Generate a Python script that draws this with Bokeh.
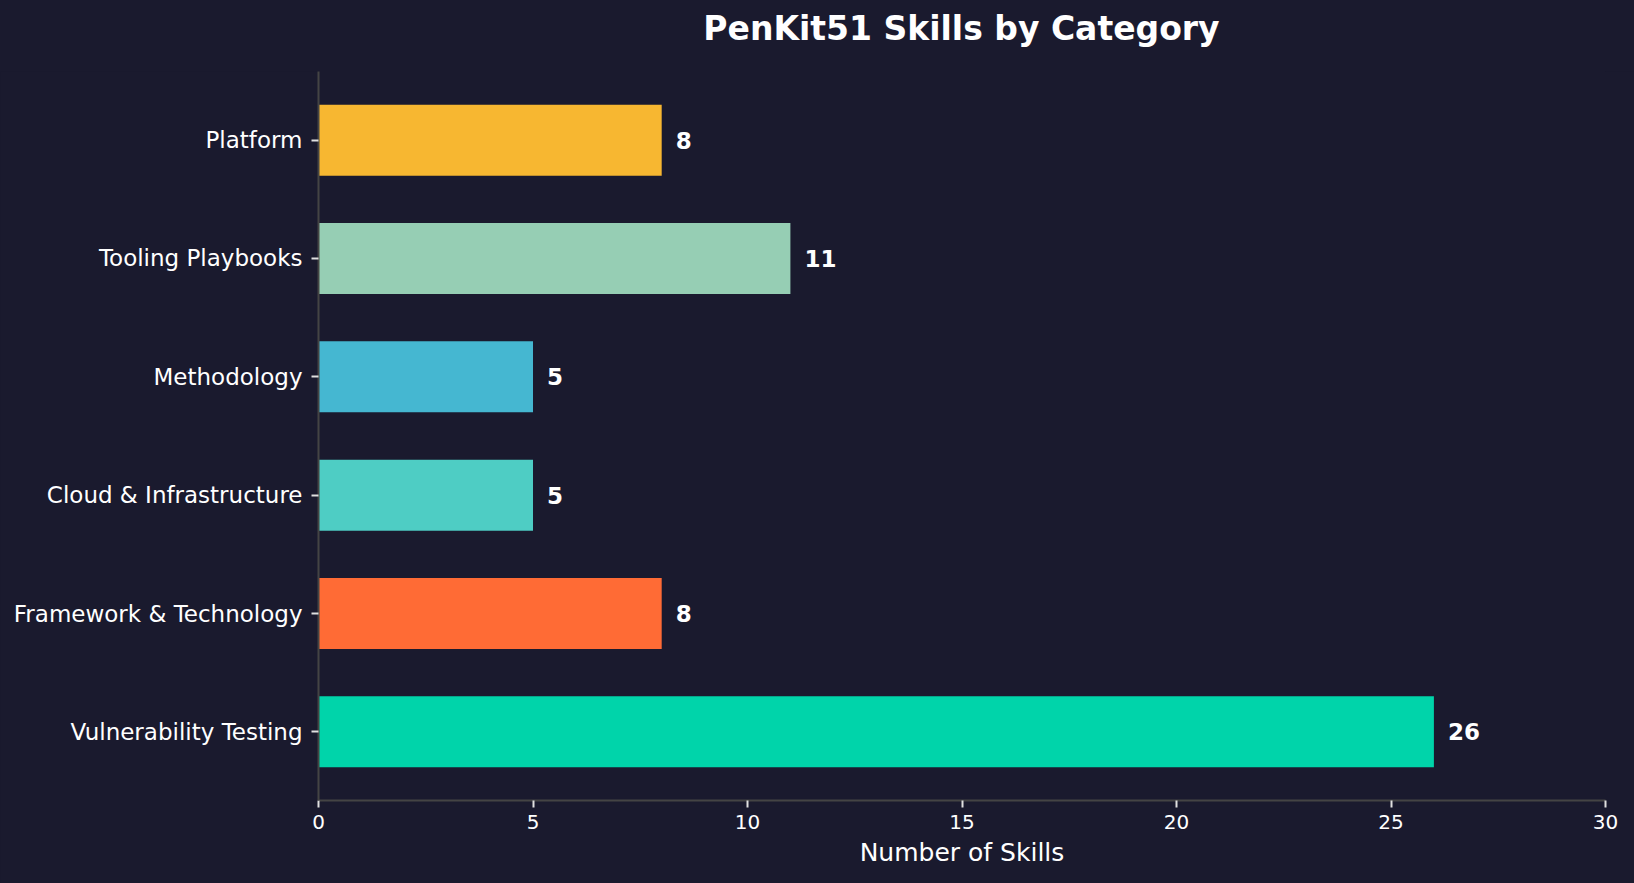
from bokeh.plotting import figure
from bokeh.models import ColumnDataSource, FactorRange, Range1d, FixedTicker, LabelSet, Div
from bokeh.layouts import column
from bokeh.core.properties import value
from bokeh.embed import file_html
from bokeh.resources import INLINE

title_text = "PenKit51 Skills by Category"
categories = ["Vulnerability Testing", "Framework & Technology", "Cloud & Infrastructure",
              "Methodology", "Tooling Playbooks", "Platform"]
counts = [26, 8, 5, 5, 11, 8]
colors = ["#00D4AA", "#FF6B35", "#4ECDC4", "#45B7D1", "#96CEB4", "#F7B731"]
x_ticks = [0, 5, 10, 15, 20, 25, 30]

BG = "#1a1a2e"
FONT = "DejaVu Sans"

src = ColumnDataSource(dict(cat=categories, n=counts, color=colors,
                            lbl=[str(c) for c in counts]))

p = figure(width=1634, height=812, output_backend="svg", toolbar_location=None,
           title=None,
           y_range=FactorRange(factors=categories, range_padding=0.08,
                               range_padding_units="absolute"),
           x_range=Range1d(0, 30),
           min_border_left=318, min_border_right=29, min_border_top=0,
           min_border_bottom=83)
p.background_fill_color = BG
p.border_fill_color = BG
p.outline_line_color = None
p.grid.visible = False

p.hbar(y="cat", right="n", left=0, height=0.6, color="color", line_color=None, source=src)

labels = LabelSet(x="n", y="cat", text="lbl", source=src, x_offset=14,
                  text_align="left", text_baseline="middle",
                  text_color="white", text_font=value(FONT), text_font_style="bold",
                  text_font_size="23px")
p.add_layout(labels)

xa = p.xaxis[0]
xa.ticker = FixedTicker(ticks=x_ticks)
xa.axis_label = "Number of Skills"
xa.axis_label_text_font = FONT
xa.axis_label_text_font_size = "25px"
xa.axis_label_text_font_style = "normal"
xa.axis_label_text_color = "white"
xa.axis_label_standoff = 6
xa.major_label_text_font = FONT
xa.major_label_text_font_size = "20px"
xa.major_label_text_color = "white"
xa.major_label_standoff = 7
xa.axis_line_color = "#444444"
xa.axis_line_width = 2
xa.major_tick_line_color = "#e0e0e0"
xa.major_tick_line_width = 2
xa.major_tick_out = 7
xa.major_tick_in = 0
xa.minor_tick_line_color = None

ya = p.yaxis[0]
ya.major_label_text_font = FONT
ya.major_label_text_font_size = "23px"
ya.major_label_text_color = "white"
ya.major_label_standoff = 9
ya.axis_line_color = "#444444"
ya.axis_line_width = 2
ya.major_tick_line_color = "#e0e0e0"
ya.major_tick_line_width = 2
ya.major_tick_out = 7
ya.major_tick_in = 0

title_div = Div(text=title_text, width=1287, height=71, margin=(0, 0, 0, 318),
                styles={"font-family": FONT, "font-size": "33px", "font-weight": "bold",
                        "color": "white", "text-align": "center", "line-height": "58px",
                        "width": "1287px"})

layout = column(title_div, p, spacing=0, styles={"background-color": BG})

html = file_html(layout, INLINE)
html = html.replace("<head>", "<head><style>html,body{margin:0;padding:0;background:%s;}</style>" % BG, 1)
open("out.html", "w").write(html)
